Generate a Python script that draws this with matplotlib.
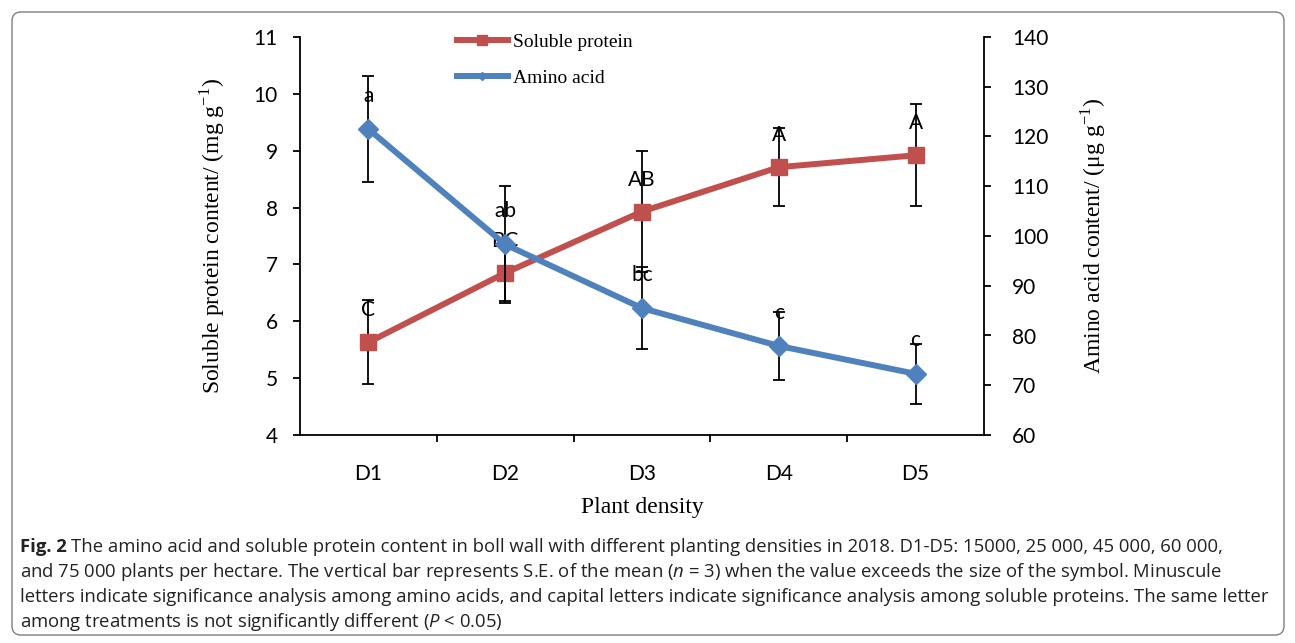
import matplotlib
matplotlib.use("Agg")
import matplotlib.pyplot as plt
import numpy as np
from matplotlib.lines import Line2D
from matplotlib.patches import FancyBboxPatch

# =============================================================================
# STYLE
# =============================================================================
RED = '#C0504D'
BLUE = '#4F81BD'
SERIF = 'Liberation Serif'
TICK_FONT = 'Lato'
CAPTION_FONT = 'Open Sans'
CAPTION_SIZE = 13.3

plt.rcParams['mathtext.fontset'] = 'custom'
plt.rcParams['mathtext.bf'] = 'Open Sans:bold'
plt.rcParams['mathtext.it'] = 'Open Sans:italic'
plt.rcParams['mathtext.rm'] = 'Open Sans'

# =============================================================================
# DATA
# =============================================================================
densities = ['D1', 'D2', 'D3', 'D4', 'D5']

protein = [5.63, 6.85, 7.93, 8.71, 8.92]          # mg g-1, left axis
protein_se = [0.74, 0.50, 1.07, 0.69, 0.90]
protein_letters = ['C', 'BC', 'AB', 'A', 'A']

amino = [121.5, 98.3, 85.5, 77.9, 72.3]           # ug g-1, right axis
amino_se = [10.7, 11.7, 8.2, 6.8, 6.0]
amino_letters = ['a', 'ab', 'bc', 'c', 'c']

caption_head = "Fig. 2"
caption_lines = [
    "The amino acid and soluble protein content in boll wall with different planting densities in 2018. D1-D5: 15000, 25 000, 45 000, 60 000,",
    r"and 75 000 plants per hectare. The vertical bar represents S.E. of the mean ($n$ = 3) when the value exceeds the size of the symbol. Minuscule",
    r"letters indicate significance analysis among amino acids, and capital letters indicate significance analysis among soluble proteins. The same letter",
    r"among treatments is not significantly different ($P$ < 0.05)",
]

# =============================================================================
# FIGURE
# =============================================================================
W, H = 1295, 643
fig = plt.figure(figsize=(W / 100, H / 100), dpi=100)
ax = fig.add_axes([300 / W, 1 - 435 / H, 684 / W, 398 / H])
ax2 = ax.twinx()

x = np.arange(len(densities))

# soluble protein (left axis)
ax.errorbar(x, protein, yerr=protein_se, fmt='none', ecolor='black',
            elinewidth=1.3, capsize=4.3, capthick=1.3, zorder=2)
ax.plot(x, protein, color=RED, linewidth=4.3, marker='s', markersize=12,
        markeredgecolor=RED, zorder=3)
for xi, yi, lab in zip(x, protein, protein_letters):
    ax.annotate(lab, (xi, yi), xytext=(0, 23), textcoords='offset points',
                ha='center', va='center', fontsize=15, family=TICK_FONT)

# amino acid (right axis)
ax2.errorbar(x, amino, yerr=amino_se, fmt='none', ecolor='black',
             elinewidth=1.3, capsize=4.3, capthick=1.3, zorder=2)
ax2.plot(x, amino, color=BLUE, linewidth=4.3, marker='D', markersize=10,
         markeredgecolor=BLUE, zorder=3)
for xi, yi, lab in zip(x, amino, amino_letters):
    ax2.annotate(lab, (xi, yi), xytext=(0, 24), textcoords='offset points',
                 ha='center', va='center', fontsize=15, family=TICK_FONT)

# -----------------------------------------------------------------------------
# AXES
# -----------------------------------------------------------------------------
ax.set_xlim(-0.5, len(densities) - 0.5)
ax.set_ylim(4, 11)
ax2.set_ylim(60, 140)
ax.set_yticks(np.arange(4, 12, 1))
ax2.set_yticks(np.arange(60, 150, 10))

ax.set_xticks(x)
ax.set_xticklabels(densities)
ax.set_xticks(np.arange(0.5, len(densities) - 1, 1), minor=True)
ax.tick_params(axis='x', which='major', length=0, pad=21)
ax.tick_params(axis='x', which='minor', length=5, width=1.3, direction='out')
ax.tick_params(axis='y', length=5, width=1.3, direction='out', pad=11)
ax2.tick_params(axis='y', length=5, width=1.3, direction='out', pad=15)

for lab in ax.get_xticklabels() + ax.get_yticklabels() + ax2.get_yticklabels():
    lab.set_fontsize(15)
    lab.set_family(TICK_FONT)

for a in (ax, ax2):
    a.spines['top'].set_visible(False)
    for s in a.spines.values():
        s.set_linewidth(1.3)
ax.spines['right'].set_visible(False)
ax2.spines['left'].set_visible(False)
ax2.spines['bottom'].set_visible(False)

ax.set_ylabel(r"Soluble protein content/ (mg g$^{\mathregular{-1}}$)",
              family=SERIF, fontsize=17)
ax.yaxis.label.set_va('center')
ax.yaxis.set_label_coords((212 - 300) / 684, 0.5)

ax2.set_ylabel(r"Amino acid content/ (μg g$^{\mathregular{-1}}$)",
               family=SERIF, fontsize=17, rotation=90)
ax2.yaxis.label.set_va('center')
ax2.yaxis.set_label_coords((1093 - 300) / 684, 0.5)

ax.set_xlabel("Plant density", family=SERIF, fontsize=17)
ax.xaxis.label.set_va('center')
ax.xaxis.set_label_coords(0.5, -(508 - 435) / 398)

# -----------------------------------------------------------------------------
# LEGEND
# -----------------------------------------------------------------------------
handles = [
    Line2D([0], [0], color=RED, linewidth=4.3, marker='s', markersize=7),
    Line2D([0], [0], color=BLUE, linewidth=4.3, marker='D', markersize=4.5),
]
leg = ax2.legend(handles, ['Soluble protein', 'Amino acid'],
                 loc='upper left', bbox_to_anchor=(457 / W, 1 - 33 / H),
                 bbox_transform=fig.transFigure, frameon=False,
                 prop={'family': SERIF, 'size': 14},
                 handlelength=2.6, handletextpad=0.3, labelspacing=0.98,
                 borderpad=0, borderaxespad=0)

# -----------------------------------------------------------------------------
# CAPTION + BORDER
# -----------------------------------------------------------------------------
head = fig.text(20 / W, 1 - 547 / H, caption_head, family=CAPTION_FONT,
                fontsize=CAPTION_SIZE, fontweight='bold', color='#222222',
                ha='left', va='center')
head_rest = plt.Annotation(caption_lines[0], xy=(1, 0.5), xycoords=head,
                           xytext=(4, 0), textcoords='offset pixels',
                           family=CAPTION_FONT, fontsize=CAPTION_SIZE,
                           color='#222222', ha='left', va='center')
fig.add_artist(head_rest)
for i, line in enumerate(caption_lines[1:], start=1):
    fig.text(20 / W, 1 - (547 + 25 * i) / H, line, family=CAPTION_FONT,
             fontsize=CAPTION_SIZE, color='#222222', ha='left', va='center')

border = FancyBboxPatch((12, 8), 1272, 623,
                        boxstyle='round,pad=0,rounding_size=9',
                        transform=None, facecolor='none',
                        edgecolor='#7f7f7f', linewidth=1.0)
fig.add_artist(border)

fig.savefig("out.png", dpi=100)
